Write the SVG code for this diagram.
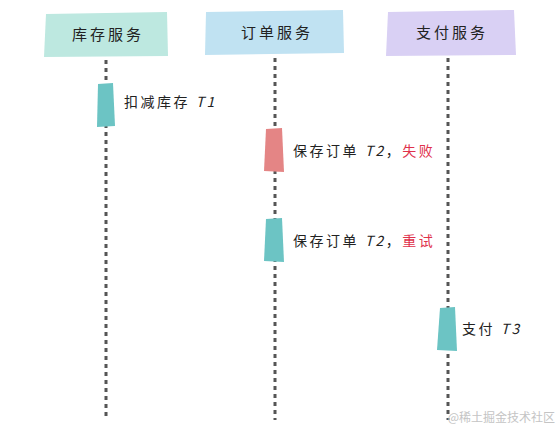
<svg xmlns="http://www.w3.org/2000/svg" width="560" height="430" viewBox="0 0 560 430">
<style>
.hdr{font-family:"Noto Sans CJK SC","Noto Sans",sans-serif;font-size:15px;fill:#222;text-anchor:middle;letter-spacing:3px}
.lbl{font-family:"Noto Sans CJK SC","Noto Sans",sans-serif;font-size:14px;fill:#222;letter-spacing:2.5px}
.red{fill:#e0314b}
.life{stroke:#555;stroke-width:3;stroke-dasharray:4,4;fill:none}
.wm{font-family:"Noto Sans CJK SC",sans-serif;font-size:12px;fill:#c4c4c4;text-anchor:end}
</style>
<rect width="560" height="430" fill="#fff"/>
<g id="connectors">
<line class="life" x1="106" y1="60" x2="106" y2="420"/>
<line class="life" x1="275" y1="58" x2="275" y2="420"/>
<line class="life" x1="448" y1="58" x2="448" y2="420"/>
</g>
<g id="svc-inventory">
<path d="M46,14 L167,12 L168,56 L44,57 Z" fill="#bde8e0"/>
<text class="hdr" x="108" y="40">库存服务</text>
</g>
<g id="svc-order">
<path d="M206,12 L343,10 L344,53 L205,55 Z" fill="#c0e2f2"/>
<text class="hdr" x="277" y="38">订单服务</text>
</g>
<g id="svc-pay">
<path d="M388,12 L514,10 L516,55 L386,56 Z" fill="#d9d0f4"/>
<text class="hdr" x="452" y="38">支付服务</text>
</g>
<g id="act-t1">
<path d="M98,84 L113,83 L115,126 L97,127 Z" fill="#6cc4c4"/>
<text class="lbl" x="124" y="107">扣减库存 <tspan font-style="italic">T1</tspan></text>
</g>
<g id="act-t2-fail">
<path d="M266,129 L282,128 L284,172 L264,171 Z" fill="#e48585"/>
<text class="lbl" x="293" y="156">保存订单 <tspan font-style="italic">T2</tspan>，<tspan class="red">失败</tspan></text>
</g>
<g id="act-t2-retry">
<path d="M266,219 L282,218 L284,262 L264,261 Z" fill="#6cc4c4"/>
<text class="lbl" x="293" y="246">保存订单 <tspan font-style="italic">T2</tspan>，<tspan class="red">重试</tspan></text>
</g>
<g id="act-t3">
<path d="M440,308 L455,307 L457,351 L437,350 Z" fill="#6cc4c4"/>
<text class="lbl" x="462" y="334">支付 <tspan font-style="italic">T3</tspan></text>
</g>
<text class="wm" x="555" y="422">@稀土掘金技术社区</text>
</svg>
